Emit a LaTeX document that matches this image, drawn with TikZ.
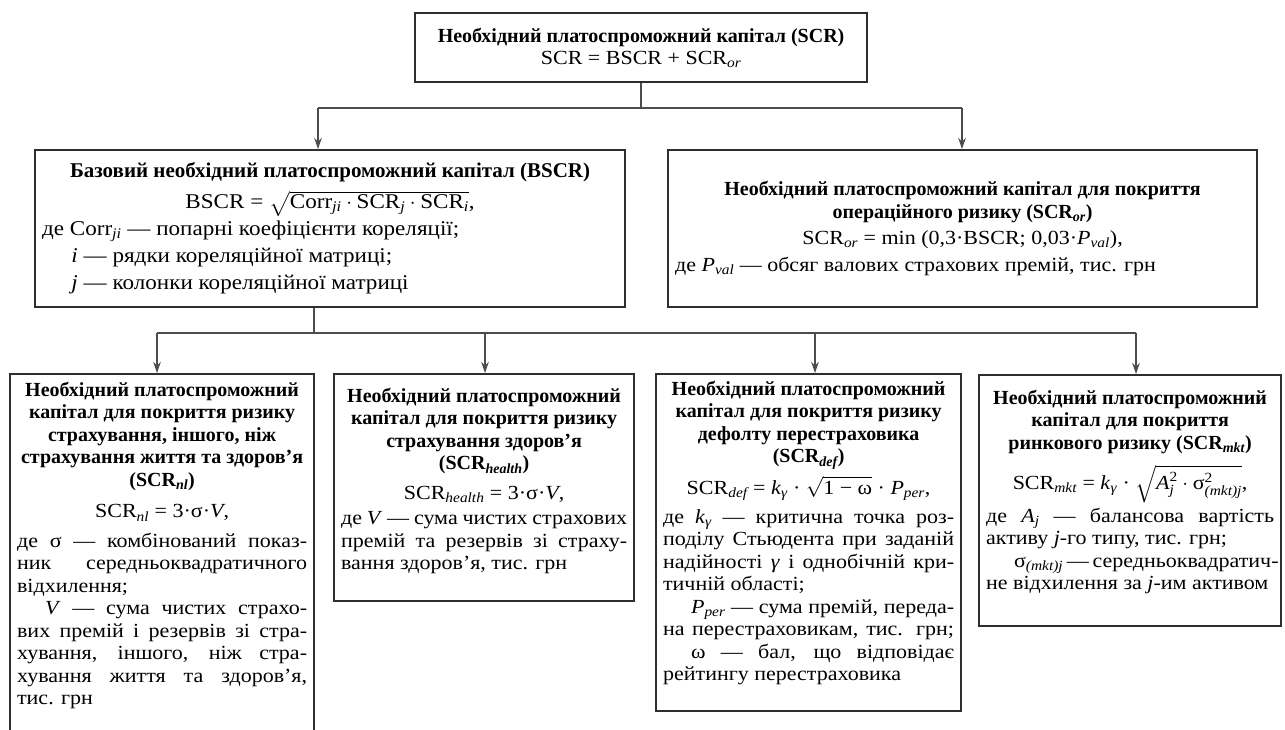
\documentclass[tikz,border=0pt]{standalone}
\usepackage{amsmath}
\usepackage{fontspec}
\setmainfont{Liberation Serif}[UprightFeatures={FakeStretch=1.1},ItalicFeatures={FakeStretch=1.1},BoldFeatures={FakeStretch=1.0},BoldItalicFeatures={FakeStretch=1.0}]
\usetikzlibrary{arrows.meta}
\newcommand\sbi[1]{\ensuremath{_{\text{\itshape #1}}}}
\newcommand\inbox[4]{\begin{minipage}[b][#1pt][#3]{#2pt}#4\end{minipage}}
\newcommand\jline[1]{\makebox[\linewidth][s]{#1}\par}
\newcommand\rline[1]{\mbox{#1}\par}
\tikzset{
  bx/.style={draw=black!82, line width=2.2pt, inner xsep=7pt, inner ysep=0pt, anchor=north west, fill=white},
  ln/.style={draw=black!70, line width=1.3pt},
  arr/.style={ln, -{Stealth[length=11pt,width=7.5pt]}},
  every node/.style={font=\fontsize{20}{22.5}\selectfont}
}
\begin{document}
\begin{tikzpicture}[x=1pt,y=-1pt]
\fill[white] (0,0) rectangle (1285,729);
\useasboundingbox (0,0) rectangle (1285,729);

\node[bx] (top) at (414,12) {\inbox{69}{438}{c}{\centering\fontsize{20}{22}\selectfont
  \textbf{Необхідний платоспроможний капітал (SCR)}\\
  SCR = BSCR + SCR\sbi{or}}};

\node[bx] (bscr) at (34,149) {\inbox{157}{576}{c}{\fontsize{21}{27}\selectfont
  {\centering\textbf{Базовий необхідний платоспроможний капітал (BSCR)}\\[4pt]
  BSCR = $\sqrt{\text{Corr}\sbi{ji}\cdot\text{SCR}\sbi{j}\cdot\text{SCR}\sbi{i}}$,\par}
  де Corr\sbi{ji} — попарні коефіцієнти кореляції;\par
  \hspace*{1.4em}\textit{i} — рядки кореляційної матриці;\par
  \hspace*{1.4em}\textit{j} — колонки кореляційної матриці}};

\node[bx] (scror) at (667,149) {\inbox{157}{575}{c}{
  {\centering\textbf{Необхідний платоспроможний капітал для покриття\\
  операційного ризику (SCR\sbi{or})}\par\vspace{4pt}
  SCR\sbi{or} = min (0,3·BSCR; 0,03·\textit{P}\sbi{val}),\par\vspace{4pt}}
  де \textit{P}\sbi{val} — обсяг валових страхових премій, тис. грн}};

\node[bx] (b1) at (9,373) {\inbox{372}{290}{t}{\vspace*{8pt}
  {\centering\bfseries Необхідний платоспроможний\\ капітал для покриття ризику\\
  страхування, іншого, ніж\\ страхування життя та здоров’я\\ (SCR\sbi{nl})\par}
  \vspace{9pt}
  {\centering SCR\sbi{nl} = 3·σ·\textit{V},\par}
  \vspace{7pt}
  \jline{де σ — комбінований показ-}
  \jline{ник середньоквадратичного}
  \rline{відхилення;}
  \jline{\hspace*{1.4em}\textit{V} — сума чистих страхо-}
  \jline{вих премій і резервів зі стра-}
  \jline{хування, іншого, ніж стра-}
  \jline{хування життя та здоров’я,}
  \rline{тис. грн}}};

\node[bx] (b2) at (333,373) {\inbox{227}{286}{t}{\vspace*{14pt}
  {\centering\bfseries Необхідний платоспроможний\\ капітал для покриття ризику\\
  страхування здоров’я\\ (SCR\sbi{health})\par}
  \vspace{7pt}
  {\centering SCR\sbi{health} = 3·σ·\textit{V},\par}
  \vspace{3pt}
  \jline{де \textit{V} — сума чистих страхових}
  \jline{премій та резервів зі страху-}
  \rline{вання здоров’я, тис. грн}}};

\node[bx] (b3) at (655,373) {\inbox{337}{291}{t}{\vspace*{7pt}
  {\centering\bfseries Необхідний платоспроможний\\ капітал для покриття ризику\\
  дефолту перестраховика\\ (SCR\sbi{def})\par}
  \vspace{6pt}
  {\centering SCR\sbi{def} = \textit{k}\sbi{γ} · $\sqrt{\text{1 − ω}}$ · \textit{P}\sbi{per},\par}
  \vspace{6pt}
  \jline{де \textit{k}\sbi{γ} — критична точка роз-}
  \jline{поділу Стьюдента при заданій}
  \jline{надійності \textit{γ} і однобічній кри-}
  \rline{тичній області;}
  \jline{\hspace*{1.4em}\textit{P}\sbi{per} — сума премій, переда-}
  \jline{на перестраховикам, тис. грн;}
  \jline{\hspace*{1.4em}ω — бал, що відповідає}
  \rline{рейтингу перестраховика}}};

\node[bx] (b4) at (978,374) {\inbox{251}{288}{t}{\vspace*{15pt}
  {\centering\bfseries Необхідний платоспроможний\\ капітал для покриття\\
  ринкового ризику (SCR\sbi{mkt})\par}
  \vspace{10pt}
  {\centering SCR\sbi{mkt} = \textit{k}\sbi{γ} · $\sqrt{\text{\itshape A}^{\text{2}}_{\text{\itshape j}}\cdot\text{σ}^{\text{2}}_{\text{\itshape (mkt)j}}}$,\par}
  \vspace{4pt}
  \jline{де \textit{A}\sbi{j} — балансова вартість}
  \rline{активу \textit{j}-го типу, тис. грн;}
  \jline{\hspace*{1.4em}σ\sbi{(mkt)j} — середньоквадратич-}
  \rline{не відхилення за \textit{j}-им активом}}};

% upper connectors
\coordinate (cl) at (318,108);
\coordinate (cr) at (962,108);
\draw[ln] (top.south) -- (top.south |- cl);
\draw[ln] (cl) -- (cr);
\draw[arr] (cl) -- (bscr.north -| cl);
\draw[arr] (cr) -- (scror.north -| cr);

% lower connectors
\coordinate (dm) at (314,333);
\coordinate (d1) at (157,333);
\coordinate (d2) at (485,333);
\coordinate (d3) at (815,333);
\coordinate (d4) at (1136,333);
\draw[ln] (bscr.south -| dm) -- (dm);
\draw[ln] (d1) -- (d4);
\draw[arr] (d1) -- (b1.north -| d1);
\draw[arr] (d2) -- (b2.north -| d2);
\draw[arr] (d3) -- (b3.north -| d3);
\draw[arr] (d4) -- (b4.north -| d4);
\end{tikzpicture}
\end{document}
